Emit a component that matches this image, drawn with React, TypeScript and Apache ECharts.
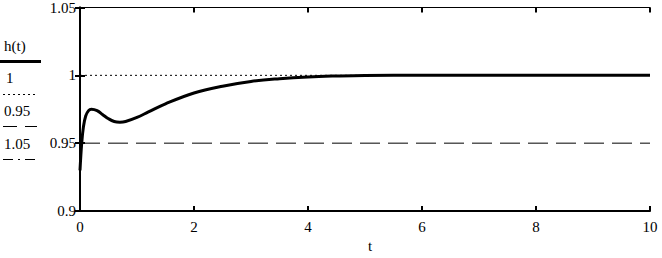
import React, { useEffect, useRef } from "react";
import * as echarts from "echarts";

const tValues = [0, 0.03, 0.06, 0.1, 0.15, 0.2, 0.3, 0.4, 0.5, 0.6, 0.7, 0.8, 1.0, 1.2, 1.5, 2.0, 2.5, 3.0, 3.5, 4.0, 4.5, 5.0, 6.0, 8.0, 10.0];
const hValues = [0.93, 0.95, 0.962, 0.97, 0.974, 0.975, 0.974, 0.971, 0.968, 0.966, 0.9655, 0.966, 0.969, 0.973, 0.979, 0.987, 0.992, 0.9955, 0.9975, 0.9988, 0.9995, 0.9999, 1.0, 1.0, 1.0];
const xTicks = [0, 2, 4, 6, 8, 10];
const yTicks = [0.9, 0.95, 1, 1.05];
const refLevels = [1, 0.95, 1.05];
const legendNames = ["h(t)", "1", "0.95", "1.05"];

const FONT = "Liberation Serif";

export default function App() {
  const ref = useRef<HTMLDivElement>(null);
  useEffect(() => {
    if (!ref.current) return;
    const chart = echarts.init(ref.current, undefined, { renderer: "svg" });
    const hData = tValues.map((t, i) => [t, hValues[i]]);
    const refStyles: any[] = [
      { type: [2, 3], width: 1 },
      { type: [20, 8], width: 1 },
      { type: [14, 5, 2, 5], width: 1 },
    ];
    const legendY = [47, 79, 112, 145];
    const lineY = [61.5, 94.5, 126.5, 159.5];
    const legendLineStyles: any[] = [
      { lineWidth: 3 },
      { lineWidth: 1, lineDash: [2, 3] },
      { lineWidth: 1, lineDash: [14, 8] },
      { lineWidth: 1, lineDash: [10, 5, 2, 5] },
    ];
    const graphics: any[] = [];
    legendNames.forEach((n, i) => {
      graphics.push({
        type: "text",
        left: n === "1" ? 6 : 4,
        top: legendY[i] - 9,
        style: { text: n, font: "15px serif", fill: "#000" },
      });
      graphics.push({
        type: "line",
        shape: { x1: i === 0 ? 0 : 3, y1: lineY[i], x2: i === 0 ? 41 : 37, y2: lineY[i] },
        style: { stroke: "#000", ...legendLineStyles[i] },
      });
    });
    graphics.push({
      type: "text",
      left: 368,
      top: 238,
      style: { text: "t", font: "15px serif", fill: "#000" },
    });

    const axisCommon = {
      axisLine: { show: true, lineStyle: { color: "#000", width: 2 } },
      axisTick: { show: true, inside: true, length: 5, lineStyle: { color: "#000", width: 2 } },
      splitLine: { show: false },
    };

    chart.setOption({
      animation: false,
      backgroundColor: "#fff",
      textStyle: { fontFamily: FONT },
      grid: { left: 80, right: 12, top: 3, bottom: 47 },
      graphic: graphics,
      xAxis: [
        {
          type: "value",
          min: 0,
          max: 10,
          interval: 2,
          ...axisCommon,
          axisLabel: {
            color: "#000",
            fontFamily: FONT,
            fontSize: 15,
            margin: 8,
            formatter: (v: number) => (xTicks.includes(v) ? String(v) : ""),
          },
        },
        {
          type: "value",
          position: "top",
          min: 0,
          max: 10,
          interval: 2,
          axisLine: { show: true, lineStyle: { color: "#000", width: 1 } },
          axisTick: { show: true, inside: true, length: 5, lineStyle: { color: "#000", width: 2 } },
          axisLabel: { show: false },
          splitLine: { show: false },
        },
      ],
      yAxis: [
        {
          type: "value",
          min: 0.9,
          max: 1.05,
          interval: 0.05,
          ...axisCommon,
          axisLabel: {
            color: "#000",
            fontFamily: FONT,
            fontSize: 15,
            margin: 4,
            formatter: (v: number) => {
              const r = Math.round(v * 100) / 100;
              return yTicks.includes(r) ? String(r) : "";
            },
          },
        },
        {
          type: "value",
          position: "right",
          min: 0.9,
          max: 1.05,
          interval: 0.05,
          axisLine: { show: true, lineStyle: { color: "#000", width: 2 } },
          axisTick: { show: true, inside: true, length: 5, lineStyle: { color: "#000", width: 2 } },
          axisLabel: { show: false },
          splitLine: { show: false },
        },
      ],
      series: [
        ...refLevels.map((lv, i) => ({
          type: "line",
          name: legendNames[i + 1],
          data: [[0, lv], [10, lv]],
          showSymbol: false,
          symbol: "none",
          lineStyle: { color: "#000", ...refStyles[i] },
          z: 1,
        })),
        {
          type: "line",
          name: legendNames[0],
          data: hData,
          smooth: 0.4,
          showSymbol: false,
          symbol: "none",
          lineStyle: { color: "#000", width: 3 },
          z: 3,
        },
      ],
    });
    return () => chart.dispose();
  }, []);
  return <div ref={ref} style={{ width: 662, height: 258, position: "absolute", left: 0, top: 0 }} />;
}
